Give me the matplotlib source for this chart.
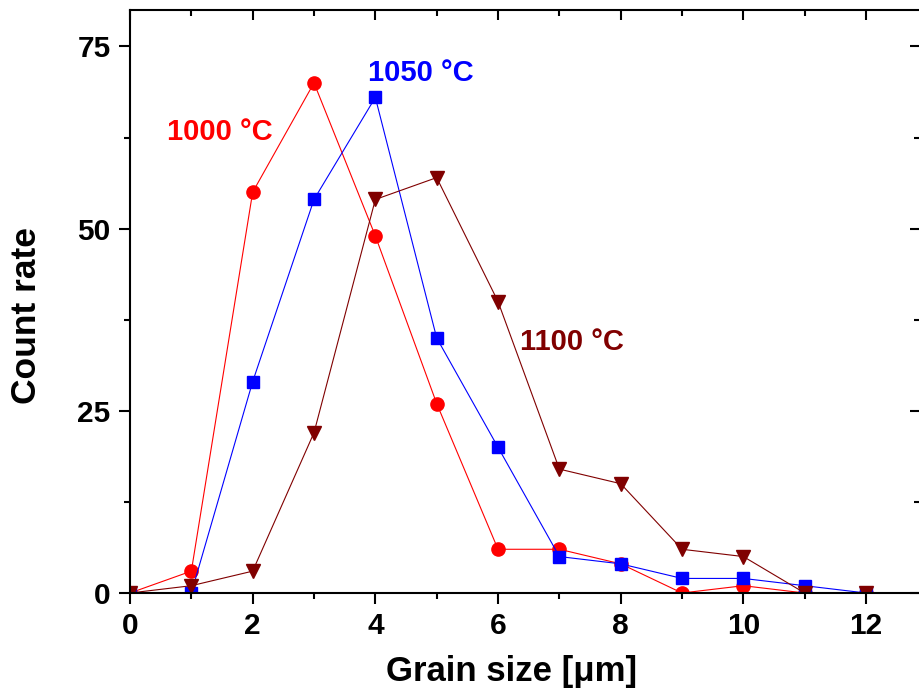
import matplotlib
matplotlib.use("Agg")
import matplotlib.pyplot as plt
from matplotlib.ticker import MultipleLocator, NullFormatter

plt.rcParams['font.family'] = ['Liberation Sans', 'DejaVu Sans']
plt.rcParams['font.weight'] = 'bold'

grain_size = [0, 1, 2, 3, 4, 5, 6, 7, 8, 9, 10, 11, 12]
count_1000 = [0, 3, 55, 70, 49, 26, 6, 6, 4, 0, 1, 0, 0]
count_1050 = [0, 0, 29, 54, 68, 35, 20, 5, 4, 2, 2, 1, 0]
count_1100 = [0, 1, 3, 22, 54, 57, 40, 17, 15, 6, 5, 0, 0]

labels = ["1000 °C", "1050 °C", "1100 °C"]
colors = ["#ff0000", "#0000ff", "#800000"]

W, H = 920, 690
fig = plt.figure(figsize=(9.2, 6.9), dpi=100)
ax = fig.add_axes([130/W, (H-593)/H, 790/W, (593-10)/H])

ax.plot(grain_size, count_1000, color=colors[0], lw=0.8, marker='o', ms=9.5, mec=colors[0], mfc=colors[0])
ax.plot(grain_size, count_1050, color=colors[1], lw=0.8, marker='s', ms=8.2, mec=colors[1], mfc=colors[1])
ax.plot(grain_size, count_1100, color=colors[2], lw=0.8, marker='v', ms=10.5, mec=colors[2], mfc=colors[2])

ax.set_xlim(0, 12.88)
ax.set_ylim(0, 80)

ax.xaxis.set_major_locator(MultipleLocator(2))
ax.xaxis.set_minor_locator(MultipleLocator(1))
ax.yaxis.set_major_locator(MultipleLocator(25))
ax.yaxis.set_minor_locator(MultipleLocator(12.5))

for s in ax.spines.values():
    s.set_linewidth(1.5)
ax.spines['right'].set_visible(False)
ax.spines['top'].set_visible(False)

ax.tick_params(axis='both', which='both', width=1.5, labelsize=21.5, pad=6, direction='out')
ax.tick_params(axis='both', which='major', length=8)
ax.tick_params(axis='both', which='minor', length=4.5)

# top axis: inward ticks, no labels
secx = ax.secondary_xaxis('top')
secx.xaxis.set_major_locator(MultipleLocator(2))
secx.xaxis.set_minor_locator(MultipleLocator(1))
secx.xaxis.set_major_formatter(NullFormatter())
secx.tick_params(axis='x', which='both', direction='in', width=1.5)
secx.tick_params(axis='x', which='major', length=7)
secx.tick_params(axis='x', which='minor', length=4.5)
secx.spines['top'].set_linewidth(1.5)

# right axis: inward ticks, no labels, no spine line
secy = ax.secondary_yaxis('right')
secy.yaxis.set_major_locator(MultipleLocator(25))
secy.yaxis.set_minor_locator(MultipleLocator(12.5))
secy.yaxis.set_major_formatter(NullFormatter())
secy.tick_params(axis='y', which='both', direction='in', width=1.5)
secy.tick_params(axis='y', which='major', length=7)
secy.tick_params(axis='y', which='minor', length=4.5)
secy.spines['right'].set_visible(False)

for lab in ax.get_xticklabels() + ax.get_yticklabels():
    lab.set_fontweight('bold')

fig.text(512/W, 1 - 681/H, "Grain size [μm]", fontsize=25, fontweight='bold',
         ha='center', va='baseline')
fig.text(27/W, 1 - 316/H, "Count rate", fontsize=25.5, fontweight='bold',
         ha='center', va='center', rotation=90)

ax.text(1.47, 63.3, labels[0], color=colors[0], fontsize=21, fontweight='bold', ha='center', va='center')
ax.text(4.74, 71.4, labels[1], color=colors[1], fontsize=21, fontweight='bold', ha='center', va='center')
ax.text(7.2, 34.5, labels[2], color=colors[2], fontsize=21, fontweight='bold', ha='center', va='center')

fig.savefig("out.png", dpi=100)
